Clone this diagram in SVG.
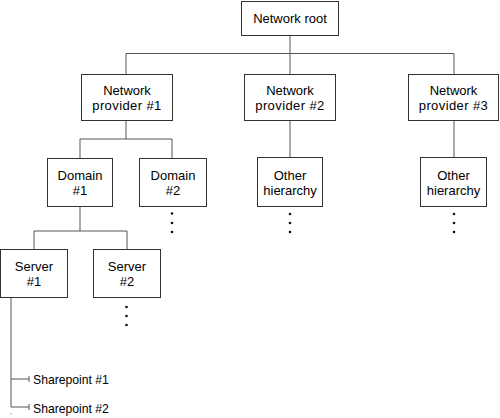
<svg xmlns="http://www.w3.org/2000/svg" width="500" height="418" viewBox="0 0 500 418">
<style>
.box{fill:#fff;stroke:#333;stroke-width:1}
.ln{fill:none;stroke:#555;stroke-width:1}
.t{font-family:"Liberation Sans",Arial,sans-serif;font-size:13px;fill:#000;text-anchor:middle}
.s{font-family:"Liberation Sans",Arial,sans-serif;font-size:12.2px;fill:#000}
.d{fill:#111}
</style>
<rect width="500" height="418" fill="#fff"/>
<g id="connectors">
<path class="ln" d="M290,35 V74 M126,53.5 H454 M126,53.5 V74 M454,53.5 V74"/>
<path class="ln" d="M290,120 V157 M454,120 V157"/>
<path class="ln" d="M126,120 V139 M80,139 H172 M80,139 V158 M172,139 V158"/>
<path class="ln" d="M80,207 V231 M34,231 H127 M34,231 V249 M127,231 V249"/>
<path class="ln" d="M11,297 V407 M11,379 H29 M11,407 H29 M29,376 V382 M29,404 V410"/>
<path class="ln" d="M11,413.5 v1"/>
</g>
<g id="root"><rect class="box" x="241.5" y="1.5" width="97" height="34"/><text class="t" x="290" y="23">Network root</text></g>
<g id="provider1"><rect class="box" x="81.5" y="74.5" width="91" height="46"/><text class="t" x="127" y="95">Network</text><text class="t" x="127" y="110" letter-spacing="0.4">provider #1</text></g>
<g id="provider2"><rect class="box" x="244.5" y="74.5" width="91" height="46"/><text class="t" x="290" y="95">Network</text><text class="t" x="290" y="110" letter-spacing="0.4">provider #2</text></g>
<g id="provider3"><rect class="box" x="408.5" y="74.5" width="90" height="46"/><text class="t" x="453.5" y="95">Network</text><text class="t" x="453.5" y="110" letter-spacing="0.4">provider #3</text></g>
<g id="other2"><rect class="box" x="257.5" y="157.5" width="65" height="49"/><text class="t" x="290" y="180">Other</text><text class="t" x="290" y="195">hierarchy</text></g>
<g id="other3"><rect class="box" x="420.5" y="157.5" width="66" height="49"/><text class="t" x="453.5" y="180">Other</text><text class="t" x="453.5" y="195">hierarchy</text></g>
<g id="domain1"><rect class="box" x="47.5" y="158.5" width="65" height="48"/><text class="t" x="80" y="180">Domain</text><text class="t" x="80" y="195">#1</text></g>
<g id="domain2"><rect class="box" x="139.5" y="158.5" width="67" height="48"/><text class="t" x="173" y="180">Domain</text><text class="t" x="173" y="195">#2</text></g>
<g id="server1"><rect class="box" x="0.5" y="249.5" width="67" height="48"/><text class="t" x="34" y="271">Server</text><text class="t" x="34" y="286">#1</text></g>
<g id="server2"><rect class="box" x="93.5" y="249.5" width="67" height="48"/><text class="t" x="127" y="271">Server</text><text class="t" x="127" y="286">#2</text></g>
<g id="sharepoint1"><text class="s" x="33" y="384">Sharepoint #1</text></g>
<g id="sharepoint2"><text class="s" x="33" y="412.5">Sharepoint #2</text></g>
<g id="ellipses">
<circle class="d" cx="172" cy="213.5" r="1.3"/><circle class="d" cx="172" cy="223" r="1.3"/><circle class="d" cx="172" cy="232" r="1.3"/>
<circle class="d" cx="290" cy="214" r="1.3"/><circle class="d" cx="290" cy="223" r="1.3"/><circle class="d" cx="290" cy="232" r="1.3"/>
<circle class="d" cx="454" cy="214" r="1.3"/><circle class="d" cx="454" cy="223" r="1.3"/><circle class="d" cx="454" cy="232" r="1.3"/>
<circle class="d" cx="126.5" cy="307" r="1.3"/><circle class="d" cx="126.5" cy="316" r="1.3"/><circle class="d" cx="126.5" cy="325" r="1.3"/>
</g>
</svg>
